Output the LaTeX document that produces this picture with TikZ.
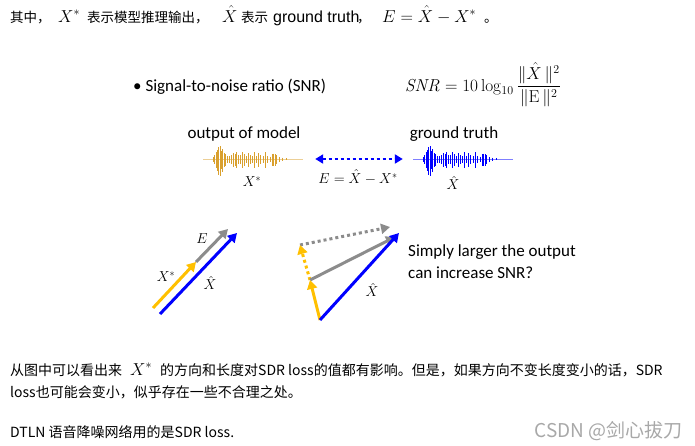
\documentclass[tikz,border=0pt]{standalone}
\usepackage[no-math]{fontspec}
\setmainfont{Liberation Sans}
\newfontfamily\cjk{Noto Sans CJK SC}
\newfontfamily\slidefont{Carlito}
\newfontfamily\latinfont{Liberation Sans}
\usetikzlibrary{arrows.meta}
\definecolor{gold}{HTML}{D9A02E}
\definecolor{vyellow}{HTML}{FFC000}
\definecolor{vgray}{HTML}{8C8C8C}
\definecolor{vblue}{HTML}{0000FF}
\definecolor{wmgray}{HTML}{A8A8A8}
\begin{document}
\begin{tikzpicture}[x=1pt,y=-1pt,
  toptext/.style={anchor=base west,inner sep=0pt,font=\cjk\fontsize{13.5}{16}\selectfont},
  bottext/.style={anchor=base west,inner sep=0pt,font=\cjk\fontsize{14}{17}\selectfont},
  mth/.style={anchor=base west,inner sep=0pt,font=\fontsize{17}{20}\selectfont},
  slide/.style={inner sep=0pt,font=\slidefont\fontsize{17}{20}\selectfont},
  lbl/.style={inner sep=0pt,font=\fontsize{14}{17}\selectfont},
  vec/.style={line width=3pt,-{Triangle[length=9pt,width=10pt]}},
  dotv/.style={vec,dash pattern=on 3pt off 3pt},
  pics/waveform/.style={code={
    \draw[line width=0.6pt,opacity=0.5] (0,0) -- (100,0);
    \foreach \dx/\a in {10/2,11.5/4,13/7,14/9,15.5/12,17/13,18/8,19.5/10,21/6,22.5/5,24/3,26/3,28/4,30/6,32/5,33.5/7,35.5/4,37/4,39/7,41/5,43/3,45/6,47/4,49/3,51/7,53/3,55.5/6,57.5/4,60/3,62.5/7,64.5/3,67/2.5,69/5,70.5/5.5,72/5,73.5/4,76/2,79/1.5,83/1}
      {\draw[line width=1pt] (\dx,-\a) -- (\dx,{1.3*\a});}
  }}]
\useasboundingbox (0,0) rectangle (695,445);
% top line
\node[toptext] (t1) at (10,22) {其中，};
\node[mth] (t2) at (58,22) {$X^*$};
\node[toptext] (t3) at (87,22) {表示模型推理输出，};
\node[mth] (t4) at (222,22) {$\hat{X}$};
\node[toptext] (t5) at (241,22) {表示};
\node[anchor=base west,inner sep=0pt,font=\latinfont\fontsize{16}{18}\selectfont] (t5b) at (273,22) {ground truth};
\node[toptext] (t5c) at (357,22) {，};
\node[mth] (t6) at (382,22) {$E=\hat{X}-X^*$};
\node[toptext] (t7) at (484,22) {。};
% slide title and formula
\node[slide,anchor=base west] (bul) at (133,91) {• Signal-to-noise ratio (SNR)};
\node[anchor=base west,inner sep=0pt,font=\fontsize{17}{20}\selectfont] (snr) at (405,91)
  {$\displaystyle \mathit{SNR}=10\log_{10}\frac{\|\hat{X}\,\|^2}{\|\mathrm{E}\,\|^2}$};
\node[slide,anchor=base] (om) at (244,138) {output of model};
\node[slide,anchor=base] (gt) at (454,138) {ground truth};
% waveforms
\pic[color=gold] at (203,159) {waveform};
\pic[color=vblue] at (413,159) {waveform};
\node[inner sep=0pt,minimum width=100pt,minimum height=30pt] (wo) at (253,159) {};
\node[inner sep=0pt,minimum width=100pt,minimum height=30pt] (wb) at (463,159) {};
\draw[vblue,line width=2.5pt,dash pattern=on 3pt off 3pt,{Triangle[length=8pt,width=9pt]}-{Triangle[length=8pt,width=9pt]},shorten <=12pt,shorten >=10pt] (wo.east) -- (wb.west);
\node[lbl] (lxs) at (252,182) {$X^*$};
\node[lbl] (lerr) at (358,177) {$E=\hat{X}-X^*$};
\node[lbl] (lxh) at (453,183) {$\hat{X}$};
% left vectors
\coordinate (lo) at (153,308);
\coordinate (ly) at (196,262);
\coordinate (lg) at (228,229);
\coordinate (lbs) at (160,314);
\coordinate (lbe) at (237,233);
\draw[vec,vyellow] (lo) -- (ly);
\draw[vec,vgray] (ly) -- (lg);
\draw[vec,vblue] (lbs) -- (lbe);
\node[lbl] (le) at (202,239) {$E$};
\node[lbl] (lx1) at (166,277) {$X^*$};
\node[lbl] (lx2) at (210,283) {$\hat{X}$};
% right vectors
\coordinate (ro) at (320,320);
\coordinate (rb) at (399,233);
\coordinate (ry) at (310,280);
\coordinate (ryd) at (300,245);
\coordinate (rg) at (395,237);
\coordinate (rgd) at (390,227);
\draw[dotv,vgray] (ryd) -- (rgd);
\draw[dotv,vyellow] (ry) -- (ryd);
\draw[vec,vgray] (ry) -- (rg);
\draw[vec,vyellow] (ro) -- (ry);
\draw[vec,vblue] (ro) -- (rb);
\node[lbl] (rx) at (372,290) {$\hat{X}$};
\node[slide,anchor=base west] (q1) at (408,256) {Simply larger the output};
\node[slide,anchor=base west] (q2) at (408,278) {can increase SNR?};
% bottom text
\node[bottext] (b1) at (10,375) {从图中可以看出来};
\node[mth] (b2) at (130,375) {$X^*$};
\node[bottext] (b3) at (160,375) {的方向和长度对SDR loss的值都有影响。但是，如果方向不变长度变小的话，SDR};
\node[bottext] (b4) at (10,397) {loss也可能会变小，似乎存在一些不合理之处。};
\node[bottext] (b5) at (10,437) {DTLN 语音降噪网络用的是SDR loss.};
\node[anchor=base east,inner sep=0pt,text=wmgray,font=\cjk\fontsize{19}{22}\selectfont] (wm) at (683,437) {CSDN @剑心拔刀};
\end{tikzpicture}
\end{document}
